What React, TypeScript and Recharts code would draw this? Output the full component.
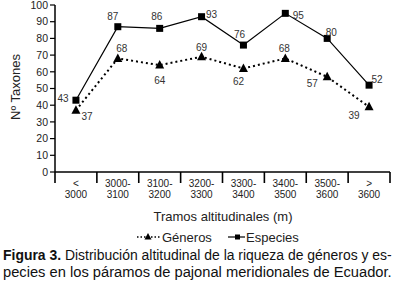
import React from "react";
import { LineChart, Line, XAxis, YAxis, LabelList } from "recharts";

const catTop = ["<", "3000-", "3100-", "3200-", "3300-", "3400-", "3500-", ">"];
const catBottom = ["3000", "3100", "3200", "3300", "3400", "3500", "3600", "3600"];
const especies = [43, 87, 86, 93, 76, 95, 80, 52];
const generos = [37, 68, 64, 69, 62, 68, 57, 39];
const yTicks = [0, 10, 20, 30, 40, 50, 60, 70, 80, 90, 100];

// label placement offsets (dx, dy) relative to each point
const espOffsets = [[-13, -2], [-5, -10], [-3, -12], [10, -2], [-4, -11], [13, 2], [4, -6], [8, -6]];
const genOffsets = [[11, 6], [4, -10], [0, 15], [0, -9], [-5, 13], [-1, -10], [-15, 7], [-15, 9]];

const data = catTop.map((c, i) => ({
  pos: i + 0.5,
  especies: especies[i],
  generos: generos[i],
}));
const xTicks = Array.from({ length: 17 }, (_, i) => i / 2);

const FONT = "'Liberation Sans', Arial, sans-serif";
const NARROW = "'Liberation Sans Narrow', 'Liberation Sans', Arial, sans-serif";

const XTick = (props: any) => {
  const { x, y, payload } = props;
  const v = payload.value;
  if (Number.isInteger(v)) {
    return <line x1={x} y1={y} x2={x} y2={y + 11} stroke="#000" strokeWidth={1.6} />;
  }
  const idx = Math.floor(v);
  return (
    <g>
      <text x={x} y={y + 15} textAnchor="middle" fontSize={10} fontFamily={FONT} fill="#222">
        {catTop[idx]}
      </text>
      <text x={x} y={y + 26} textAnchor="middle" fontSize={10} fontFamily={FONT} fill="#222">
        {catBottom[idx]}
      </text>
    </g>
  );
};

const makeLabel = (offsets: number[][]) => (props: any) => {
  const { x, y, value, index } = props;
  const [dx, dy] = offsets[index];
  return (
    <text x={x + dx} y={y + dy} textAnchor="middle" dominantBaseline="central" fontSize={10} fontFamily={FONT} fill="#333">
      {value}
    </text>
  );
};

const SquareDot = (props: any) => {
  const { cx, cy, index } = props;
  return <rect key={"s" + index} x={cx - 3.5} y={cy - 3.5} width={7} height={7} fill="#000" />;
};
const TriDot = (props: any) => {
  const { cx, cy, index } = props;
  return (
    <polygon
      key={"t" + index}
      points={`${cx},${cy - 5} ${cx - 4.5},${cy + 3.5} ${cx + 4.5},${cy + 3.5}`}
      fill="#000"
    />
  );
};

export default function App() {
  return (
    <div style={{ position: "absolute", left: 0, top: 0, width: 400, height: 282, background: "#fff" }}>
      <LineChart width={400} height={282} data={data} margin={{ top: 5, right: 10, bottom: 80, left: 0 }}>
        <XAxis
          dataKey="pos"
          type="number"
          domain={[0, 8]}
          ticks={xTicks}
          interval={0}
          tickLine={false}
          tickSize={0}
          tickMargin={0}
          height={30}
          axisLine={{ stroke: "#000", strokeWidth: 1.5 }}
          tick={<XTick />}
        />
        <YAxis
          domain={[0, 100]}
          ticks={yTicks}
          interval={0}
          width={55}
          tickSize={5}
          tickMargin={2}
          axisLine={{ stroke: "#000", strokeWidth: 1.5 }}
          tickLine={{ stroke: "#000", strokeWidth: 1.2 }}
          tick={{ fontSize: 10.5, fill: "#222", fontFamily: FONT }}
        />
        <Line
          dataKey="generos"
          stroke="#000"
          strokeWidth={2}
          strokeDasharray="2 3"
          dot={<TriDot />}
          isAnimationActive={false}
        >
          <LabelList dataKey="generos" content={makeLabel(genOffsets)} />
        </Line>
        <Line
          dataKey="especies"
          stroke="#000"
          strokeWidth={1.2}
          dot={<SquareDot />}
          isAnimationActive={false}
        >
          <LabelList dataKey="especies" content={makeLabel(espOffsets)} />
        </Line>
      </LineChart>
      <svg width={400} height={282} style={{ position: "absolute", left: 0, top: 0, pointerEvents: "none" }}>
        <text x={15} y={87} transform="rotate(-90 15 87)" textAnchor="middle" dominantBaseline="central" fontSize={13} fontFamily={FONT} fill="#222">
          Nº Taxones
        </text>
        <text x={223} y={221} textAnchor="middle" fontSize={13} fontFamily={FONT} fill="#222">
          Tramos altitudinales (m)
        </text>
        {/* legend */}
        <line x1={137} y1={237} x2={160} y2={237} stroke="#000" strokeWidth={1.5} strokeDasharray="1.5 2" />
        <polygon points="148,233 144.5,239.5 151.5,239.5" fill="#000" />
        <text x={162} y={241.5} fontSize={13} fontFamily={FONT} fill="#222">Géneros</text>
        <line x1={228} y1={237} x2={245} y2={237} stroke="#000" strokeWidth={1.2} />
        <rect x={235} y={234.5} width={5} height={5} fill="#000" />
        <text x={246} y={241.5} fontSize={13} fontFamily={FONT} fill="#222">Especies</text>
        {/* caption */}
        <g transform="translate(3 260) scale(0.86 1)">
          <text x={0} y={0} fontSize={15} fontFamily={NARROW} fill="#111" textLength={452} lengthAdjust="spacingAndGlyphs">
            <tspan fontWeight="bold">Figura 3.</tspan>
            <tspan> Distribución altitudinal de la riqueza de géneros y es-</tspan>
          </text>
        </g>
        <g transform="translate(3 277) scale(0.86 1)">
          <text x={0} y={0} fontSize={15} fontFamily={NARROW} fill="#111" textLength={452} lengthAdjust="spacingAndGlyphs">
            pecies en los páramos de pajonal meridionales de Ecuador.
          </text>
        </g>
      </svg>
    </div>
  );
}
